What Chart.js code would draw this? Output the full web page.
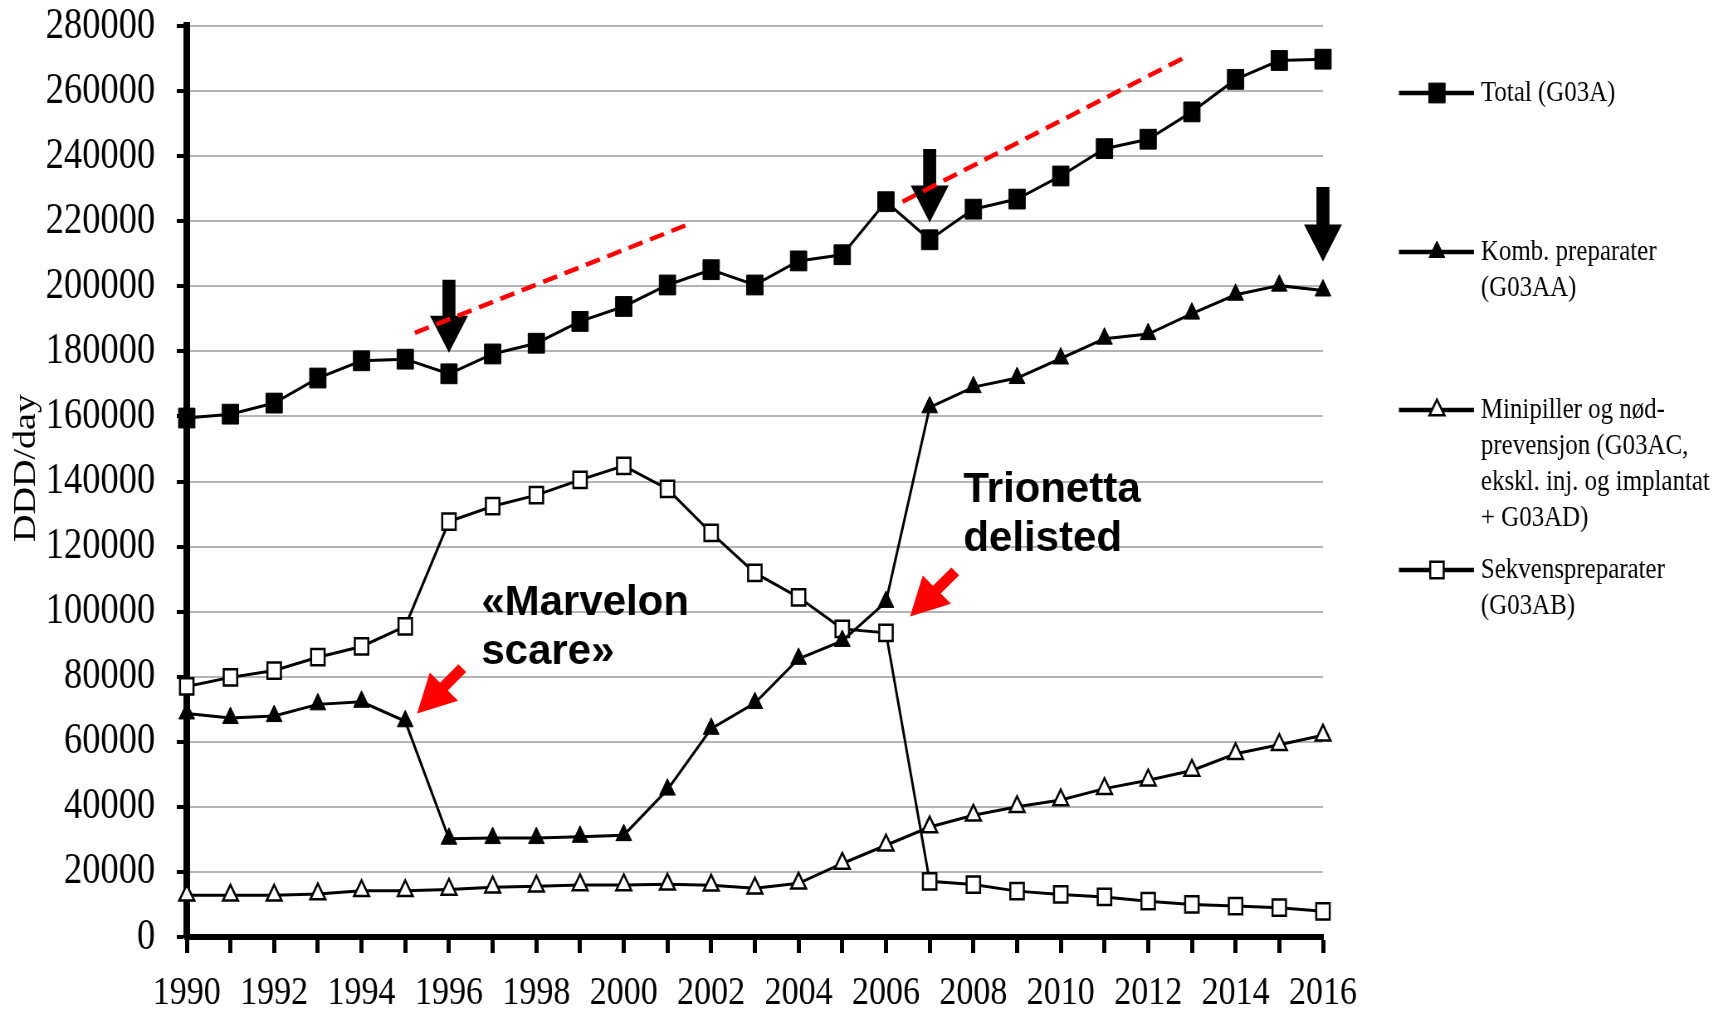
<!DOCTYPE html>
<html>
<head>
<meta charset="utf-8">
<script src="https://cdn.jsdelivr.net/npm/chart.js@4.4.1/dist/chart.umd.min.js"></script>
<style>
  html, body { margin: 0; padding: 0; background: #fff; overflow: hidden; }
  #chart { display: block; }
</style>
</head>
<body>
<canvas id="chart" width="2076" height="1009" style="width:1723px;height:1009px"></canvas>
<script>
// values (DDD/day)
const years = ['1990','1991','1992','1993','1994','1995','1996','1997','1998','1999','2000','2001','2002','2003',
  '2004','2005','2006','2007','2008','2009','2010','2011','2012','2013','2014','2015','2016'];
const yearLabels = years.map((y, i) => i % 2 === 0 ? y : '');

const total = [159500,160700,164100,171800,177100,177600,173100,179200,182500,189200,193800,200400,205100,200400,
  207800,209700,226000,214300,223700,226800,233900,242300,245200,253600,263600,269400,269800];
const komb = [68700,67300,67900,71500,72300,66300,30200,30400,30400,30800,31300,45300,64000,71900,
  85500,91000,103000,162800,169000,171800,177800,183900,185300,191600,197400,200200,198700];
const mini = [12800,12800,12800,13200,14200,14200,14600,15300,15600,16000,16000,16200,15900,15000,
  16500,22600,28200,33800,37400,40000,42100,45600,48200,51200,56300,59100,62000];
const sekv = [77000,79800,81900,86000,89300,95500,127700,132400,135800,140500,144800,137700,124200,111900,
  104400,94700,93500,17100,16100,14100,13100,12300,11000,10000,9500,9000,7900];

const legendTotal = ['Total (G03A)'];
const legendKomb = ['Komb. preparater', '(G03AA)'];
const legendMini = ['Minipiller og nød-', 'prevensjon (G03AC,', 'ekskl. inj. og implantat', '+ G03AD)'];
const legendSekv = ['Sekvenspreparater', '(G03AB)'];

// annotations, in data space (x = year index)
const trendLines = [[5.22, 185700, 11.45, 218900], [16.38, 226000, 22.9, 270800]];
const blackArrows = [[6, 179600, 202000], [17, 219600, 242200], [26, 207600, 230500]];
const redArrows = [[5.27, 68700], [16.55, 98500]];
const notes = [
  { x: 6.74, y: 99000, lines: ['«Marvelon', 'scare»'] },
  { x: 17.77, y: 133800, lines: ['Trionetta', 'delisted'] }
];

const K = 0.83; // the source picture is squeezed horizontally
Chart.defaults.font.family = '"Liberation Serif", "Times New Roman", serif';
Chart.defaults.color = '#000';

function mark(ctx, style, fill, r, bw, x, y) {
  ctx.save();
  ctx.beginPath();
  if (style === 'rect') {
    const s = Math.SQRT1_2 * r;
    ctx.rect(x - s, y - s, 2 * s, 2 * s);
  } else {
    let a = 0;
    ctx.moveTo(x + Math.sin(a) * r, y - Math.cos(a) * r);
    a += 2 * Math.PI / 3; ctx.lineTo(x + Math.sin(a) * r, y - Math.cos(a) * r);
    a += 2 * Math.PI / 3; ctx.lineTo(x + Math.sin(a) * r, y - Math.cos(a) * r);
    ctx.closePath();
  }
  ctx.fillStyle = fill; ctx.fill();
  ctx.lineWidth = bw; ctx.strokeStyle = '#000'; ctx.stroke();
  ctx.restore();
}

const extras = {
  id: 'extras',
  afterDatasetsDraw(chart) {
    const ctx = chart.ctx, xs = chart.scales.x, ys = chart.scales.y;
    const px = v => xs.getPixelForValue(v) * K, py = v => ys.getPixelForValue(v);

    // y title
    ctx.save();
    ctx.translate(32, 468);
    ctx.rotate(-Math.PI / 2);
    ctx.font = '38px "Liberation Serif"';
    ctx.fillStyle = '#000'; ctx.textAlign = 'center'; ctx.textBaseline = 'middle';
    ctx.fillText('DDD/day', 0, 0);
    ctx.restore();

    // legend
    const items = [
      [legendTotal, 'rect', '#000', 14, 1, [93]],
      [legendKomb, 'tri', '#000', 11, 1, [252, 288]],
      [legendMini, 'tri', '#fff', 10.5, 2.5, [410, 446, 482, 518]],
      [legendSekv, 'rect', '#fff', 11.5, 2.5, [570, 606]]
    ];
    ctx.save();
    ctx.font = '30px "Liberation Serif"';
    ctx.textBaseline = 'middle'; ctx.fillStyle = '#000';
    items.forEach(([lines, st, fill, r, bw, ys2]) => {
      ctx.beginPath(); ctx.lineWidth = 4.5; ctx.strokeStyle = '#000';
      ctx.moveTo(1399 / K, ys2[0]); ctx.lineTo(1474 / K, ys2[0]); ctx.stroke();
      mark(ctx, st, fill, r, bw, 1437 / K, ys2[0]);
      lines.forEach((t, i) => ctx.fillText(t, 1481 / K, ys2[i]));
    });
    ctx.restore();

    // annotations drawn in unsqueezed pixels
    ctx.save();
    ctx.scale(1 / K, 1);

    ctx.fillStyle = '#000';
    blackArrows.forEach(([i, tip, top]) => {
      const x = px(i), yt = py(tip), y0 = py(top), hl = 37, hw = 19, sw = 6.5;
      ctx.beginPath();
      ctx.moveTo(x - sw, y0); ctx.lineTo(x + sw, y0); ctx.lineTo(x + sw, yt - hl);
      ctx.lineTo(x + hw, yt - hl); ctx.lineTo(x, yt); ctx.lineTo(x - hw, yt - hl);
      ctx.lineTo(x - sw, yt - hl); ctx.closePath(); ctx.fill();
    });

    ctx.strokeStyle = '#ff0000'; ctx.lineWidth = 4.5; ctx.setLineDash([15, 8]);
    trendLines.forEach(([a, b, c, d]) => {
      ctx.beginPath(); ctx.moveTo(px(a), py(b)); ctx.lineTo(px(c), py(d)); ctx.stroke();
    });
    ctx.setLineDash([]);

    ctx.fillStyle = '#ff0000';
    redArrows.forEach(([i, v]) => {
      const tx = px(i), ty = py(v);
      ctx.save();
      ctx.translate(tx, ty);
      ctx.rotate(-Math.PI / 4); // shaft goes up-right from the tip
      const L = 64, hl = 38, hw = 20, sw = 5.5;
      ctx.beginPath();
      ctx.moveTo(0, 0); ctx.lineTo(hl, -hw); ctx.lineTo(hl, -sw); ctx.lineTo(L, -sw);
      ctx.lineTo(L, sw); ctx.lineTo(hl, sw); ctx.lineTo(hl, hw); ctx.closePath(); ctx.fill();
      ctx.restore();
    });

    ctx.fillStyle = '#000';
    ctx.font = 'bold 42px "Liberation Sans", Arial, sans-serif';
    ctx.textBaseline = 'alphabetic'; ctx.textAlign = 'left';
    notes.forEach(n => n.lines.forEach((t, j) => ctx.fillText(t, px(n.x), py(n.y) + j * 49)));
    ctx.restore();
  }
};

new Chart(document.getElementById('chart'), {
  type: 'line',
  data: {
    labels: years,
    datasets: [
      { label: 'Total (G03A)', data: total, borderColor: '#000', borderWidth: 3, pointStyle: 'rect',
        pointRadius: 14, pointBackgroundColor: '#000', pointBorderColor: '#000', pointBorderWidth: 1, clip: false },
      { label: 'Komb. preparater (G03AA)', data: komb, borderColor: '#000', borderWidth: 3, pointStyle: 'triangle',
        pointRadius: 11, pointBackgroundColor: '#000', pointBorderColor: '#000', pointBorderWidth: 1, clip: false },
      { label: 'Minipiller og nød-prevensjon (G03AC, ekskl. inj. og implantat + G03AD)', data: mini, borderColor: '#000',
        borderWidth: 3, pointStyle: 'triangle', pointRadius: 10.5, pointBackgroundColor: '#fff',
        pointBorderColor: '#000', pointBorderWidth: 2.5, clip: false },
      { label: 'Sekvenspreparater (G03AB)', data: sekv, borderColor: '#000', borderWidth: 3, pointStyle: 'rect',
        pointRadius: 11.5, pointBackgroundColor: '#fff', pointBorderColor: '#000', pointBorderWidth: 2.5, clip: false }
    ]
  },
  options: {
    responsive: false,
    devicePixelRatio: 1,
    animation: false,
    layout: { padding: { top: 0, right: 482, left: 0, bottom: 0 } },
    plugins: { legend: { display: false }, tooltip: { enabled: false } },
    elements: { line: { tension: 0 } },
    scales: {
      x: {
        offset: false,
        grid: { display: true, drawOnChartArea: false, drawTicks: true, tickLength: 16, tickWidth: 5, tickColor: '#000' },
        border: { display: true, color: '#000', width: 6 },
        ticks: { autoSkip: false, maxRotation: 0, minRotation: 0, padding: 16, color: '#000',
          font: { size: 41 }, callback: (v, i) => yearLabels[i] },
        afterFit: s => { s.height = 72; }
      },
      y: {
        min: 0, max: 280000,
        grid: { color: '#b4b4b4', lineWidth: 2, drawTicks: true, tickLength: 12, tickWidth: 4, tickColor: '#000' },
        border: { display: true, color: '#000', width: 8 },
        ticks: { stepSize: 20000, padding: 26, color: '#000', font: { size: 44 }, callback: v => String(v) },
        afterFit: s => { s.width = 225; s.paddingTop = 26; s.paddingBottom = 0; }
      }
    }
  },
  plugins: [extras]
});
</script>
</body>
</html>
